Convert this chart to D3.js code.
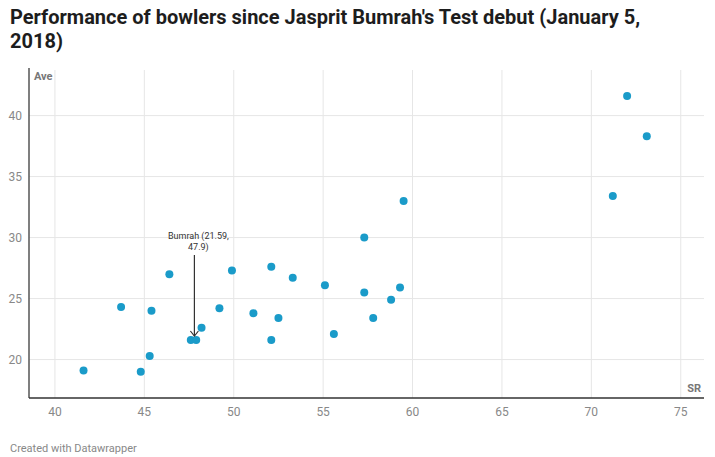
<!DOCTYPE html>
<html><head><meta charset="utf-8">
<script src="https://cdn.jsdelivr.net/npm/d3@7"></script>
<style>body{margin:0;background:#fff;font-family:Roboto,sans-serif}</style>
</head><body><svg id="c" width="715" height="457"></svg>
<script>
const sr  = [41.6,43.7,45.4,45.3,44.8,46.4,47.6,47.9,48.2,49.2,49.9,51.1,52.1,52.1,52.5,53.3,55.1,55.6,57.3,57.3,57.8,58.8,59.3,59.5,71.2,72.0,73.1];
const ave = [19.1,24.3,24.0,20.3,19.0,27.0,21.6,21.6,22.6,24.2,27.3,23.8,27.6,21.6,23.4,26.7,26.1,22.1,30.0,25.5,23.4,24.9,25.9,33.0,33.4,41.6,38.3];
const xTicks = [40,45,50,55,60,65,70,75];
const yTicks = [20,25,30,35,40];
const svg = d3.select("#c");
const x = d3.scaleLinear().domain([38.55,76.3]).range([29,704]);
const y = d3.scaleLinear().domain([16.85,43.9]).range([398,68]);
svg.append("text").attr("x",10).attr("y",24).attr("font-size",20).attr("font-weight","bold").attr("fill","#1d1d1d")
  .text("Performance of bowlers since Jasprit Bumrah's Test debut (January 5,");
svg.append("text").attr("x",10).attr("y",48).attr("font-size",20).attr("font-weight","bold").attr("fill","#1d1d1d").text("2018)");
const g = svg.append("g");
xTicks.forEach(t=>{g.append("line").attr("x1",x(t)).attr("x2",x(t)).attr("y1",70).attr("y2",398).attr("stroke","#e6e6e6");
  g.append("text").attr("x",x(t)).attr("y",416).attr("text-anchor","middle").attr("font-size",12).attr("fill","#888").text(t);});
yTicks.forEach(t=>{g.append("line").attr("x1",29).attr("x2",704).attr("y1",y(t)).attr("y2",y(t)).attr("stroke","#e6e6e6");
  g.append("text").attr("x",22).attr("y",y(t)+4).attr("text-anchor","end").attr("font-size",12).attr("fill","#888").text(t);});
g.append("line").attr("x1",29).attr("x2",29).attr("y1",68).attr("y2",398).attr("stroke","#555").attr("stroke-width",1.5);
g.append("line").attr("x1",29).attr("x2",704).attr("y1",398).attr("y2",398).attr("stroke","#333").attr("stroke-width",1.5);
g.append("text").attr("x",34).attr("y",80).attr("font-size",11).attr("font-weight","bold").attr("fill","#777").text("Ave");
g.append("text").attr("x",701).attr("y",392).attr("text-anchor","end").attr("font-size",11).attr("font-weight","bold").attr("fill","#777").text("SR");
g.selectAll("circle").data(sr).join("circle").attr("cx",d=>x(d)).attr("cy",(d,i)=>y(ave[i])).attr("r",4).attr("fill","#1a9bc9");
// annotation
const ax = x(47.8);
g.append("line").attr("x1",ax).attr("x2",ax).attr("y1",255).attr("y2",336).attr("stroke","#333").attr("stroke-width",1.2);
g.append("path").attr("d",`M${ax-4},${331} L${ax},${336} L${ax+4},${331}`).attr("fill","none").attr("stroke","#333").attr("stroke-width",1.2);
g.append("text").attr("x",ax+4).attr("y",239).attr("text-anchor","middle").attr("font-size",9).attr("fill","#333").text("Bumrah (21.59,");
g.append("text").attr("x",ax+4).attr("y",250).attr("text-anchor","middle").attr("font-size",9).attr("fill","#333").text("47.9)");
svg.append("text").attr("x",10).attr("y",452).attr("font-size",11).attr("fill","#888").text("Created with Datawrapper");
</script></body></html>
